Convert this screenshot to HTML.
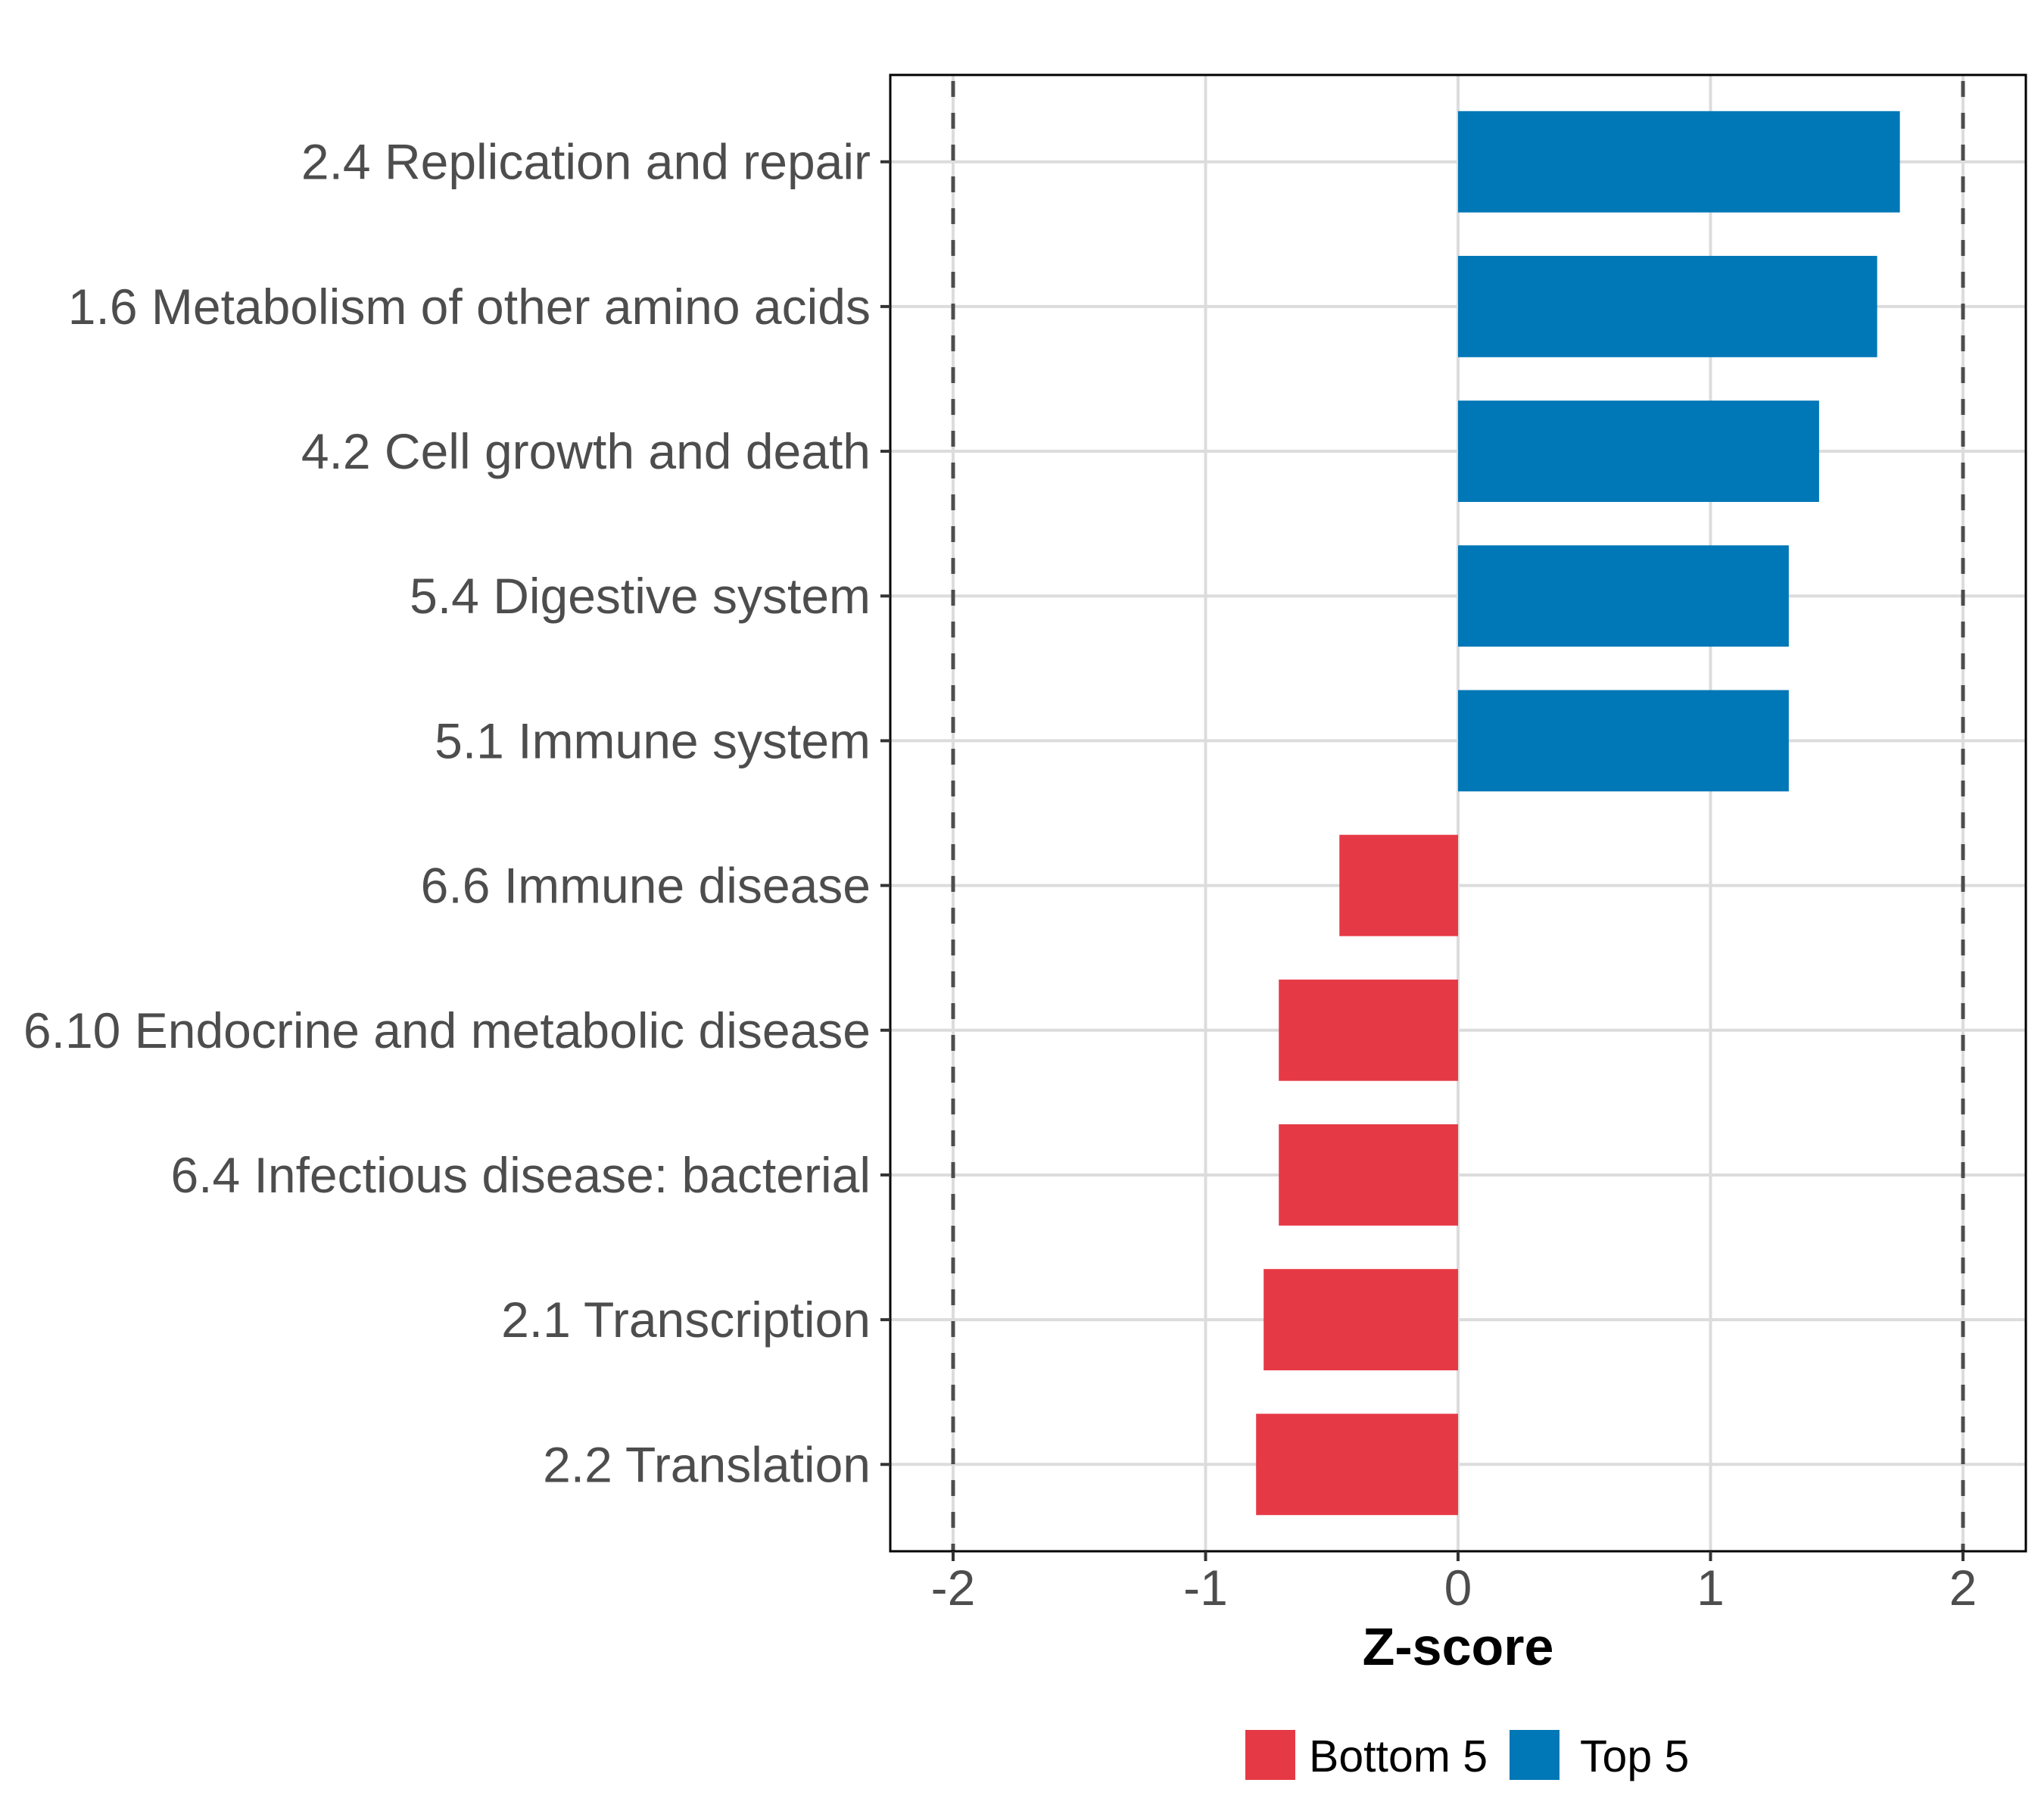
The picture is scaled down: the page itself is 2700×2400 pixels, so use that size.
<!DOCTYPE html>
<html><head><meta charset="utf-8"><style>
html,body{margin:0;padding:0;background:#fff}
svg{display:block}
text{font-family:"Liberation Sans",Arial,sans-serif}
</style></head><body>
<svg id="chart" width="2700" height="2400" viewBox="0 0 2700 2400" xmlns="http://www.w3.org/2000/svg">
<rect x="0" y="0" width="2700" height="2400" fill="#fff"/>
<g id="grid"></g>
<g id="bars"></g>
<g id="refs"></g>
<rect x="1176" y="99" width="1500" height="1950" fill="none" stroke="#000" stroke-width="3"/>
<g id="yaxis"></g>
<g id="xaxis"></g>
<text x="1926" y="2199" text-anchor="middle" font-size="70" font-weight="bold" fill="#000">Z-score</text>
<g>
  <rect x="1645" y="2285" width="66" height="66" fill="#E63946"/>
  <text x="1729" y="2340" font-size="59" fill="#000">Bottom 5</text>
  <rect x="1994" y="2285" width="66" height="66" fill="#0077B6"/>
  <text x="2087" y="2340" font-size="59" fill="#000">Top 5</text>
</g>
</svg>
<script>
const categories = ["2.4 Replication and repair","1.6 Metabolism of other amino acids","4.2 Cell growth and death","5.4 Digestive system","5.1 Immune system","6.6 Immune disease","6.10 Endocrine and metabolic disease","6.4 Infectious disease: bacterial","2.1 Transcription","2.2 Translation"];
const zscores = [1.75, 1.66, 1.43, 1.31, 1.31, -0.47, -0.71, -0.71, -0.77, -0.80];
const groups = ["Top 5","Top 5","Top 5","Top 5","Top 5","Bottom 5","Bottom 5","Bottom 5","Bottom 5","Bottom 5"];
const xTicks = [-2, -1, 0, 1, 2];
const xTickLabels = ["-2","-1","0","1","2"];
const refLines = [-2, 2];

const NS = "http://www.w3.org/2000/svg";
const PL = 1176, PR = 2676, PT = 99, PB = 2049;
const X0 = 1926, UNIT = 333.5;
function xs(v){ return X0 + v * UNIT; }
const step = (PB - PT) / (categories.length - 1 + 1.2);
function ys(i){ return PT + step * (0.6 + i); }
const colors = {"Top 5":"#0077B6","Bottom 5":"#E63946"};
function mk(tag, attrs, parent){ const e=document.createElementNS(NS,tag); for(const k in attrs) e.setAttribute(k,attrs[k]); parent.appendChild(e); return e; }
const grid=document.getElementById('grid'), bars=document.getElementById('bars'), refs=document.getElementById('refs'), ya=document.getElementById('yaxis'), xa=document.getElementById('xaxis');

xTicks.forEach(t=>{ const l=mk('line',{x1:xs(t),x2:xs(t),y1:PT,y2:PB,stroke:'#dcdcdc','stroke-width':4},grid);

 });
categories.forEach((c,i)=>{ const l=mk('line',{x1:PL,x2:PR,y1:ys(i),y2:ys(i),stroke:'#dcdcdc','stroke-width':4},grid);

 });

const bw = step*0.7;
zscores.forEach((v,i)=>{
  const x1=Math.min(xs(0),xs(v)), x2=Math.max(xs(0),xs(v));
  const r=mk('rect',{x:x1,y:ys(i)-bw/2,width:x2-x1,height:bw,fill:colors[groups[i]]},bars);
  
  
});

refLines.forEach(v=>{ const l=mk('line',{x1:xs(v),x2:xs(v),y1:PT,y2:PB,stroke:'#4d4d4d','stroke-width':5,'stroke-dasharray':'21 21','stroke-dashoffset':'-8'},refs);

 });

categories.forEach((c,i)=>{
  const t=mk('line',{x1:PL-13,x2:PL,y1:ys(i),y2:ys(i),stroke:'#333','stroke-width':4},ya);
  
  
  const tx=mk('text',{x:1150,y:ys(i)+23,'text-anchor':'end','font-size':66,fill:'#4d4d4d'},ya);
  tx.textContent=c;
  
  
});
xTicks.forEach((v,i)=>{
  const t=mk('line',{x1:xs(v),x2:xs(v),y1:PB,y2:PB+13,stroke:'#333','stroke-width':4},xa);
  
  
  const tx=mk('text',{x:xs(v),y:2120,'text-anchor':'middle','font-size':66,fill:'#4d4d4d'},xa);
  tx.textContent=xTickLabels[i];
  
  
});
</script>
</body></html>
